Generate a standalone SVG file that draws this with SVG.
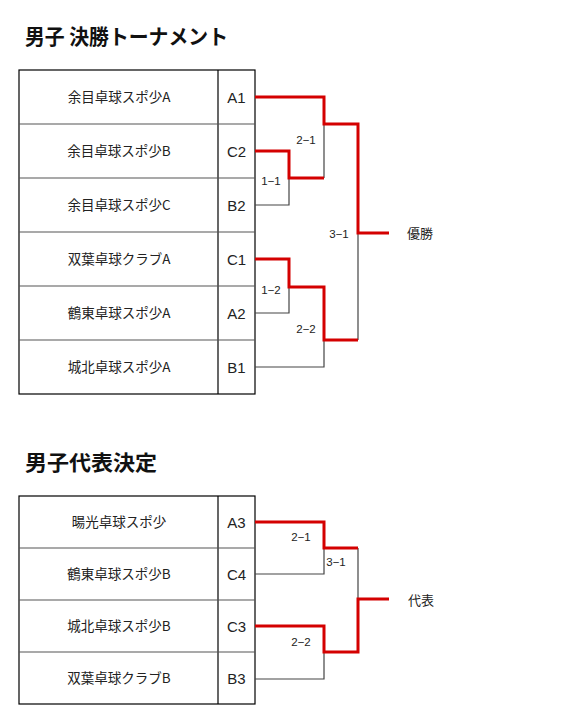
<svg xmlns="http://www.w3.org/2000/svg" width="585" height="727" viewBox="0 0 585 727">
<style>
.title{font-family:"Noto Sans CJK JP","Liberation Sans",sans-serif;font-size:21px;font-weight:bold;fill:#111}
.name{font-family:"Noto Sans CJK JP",sans-serif;font-size:13.5px;fill:#222;text-anchor:middle}
.code{font-family:"Liberation Sans","Noto Sans CJK JP",sans-serif;font-size:15px;fill:#222;text-anchor:middle}
.score{font-family:"Liberation Sans",sans-serif;font-size:11.5px;fill:#222;text-anchor:middle}
.res{font-family:"Noto Sans CJK JP",sans-serif;font-size:13px;fill:#222}
.cell{fill:#fff;stroke:#000;stroke-width:1.2}
.rowline{stroke:#555;stroke-width:1.2}
.lose{fill:none;stroke:#444;stroke-width:1.2}
.win{fill:none;stroke:#d40000;stroke-width:3}
</style>
<rect width="585" height="727" fill="#fff"/>
<text class="title" x="25" y="44" textLength="203" lengthAdjust="spacingAndGlyphs">男子 決勝トーナメント</text>
<text class="title" x="25" y="470" textLength="132" lengthAdjust="spacingAndGlyphs">男子代表決定</text>

<g id="table1">
<rect class="cell" x="19" y="70" width="236" height="324"/>
<line class="rowline" x1="218" y1="70" x2="218" y2="394" style="stroke:#000"/>
<line class="rowline" x1="19" y1="124" x2="255" y2="124"/>
<line class="rowline" x1="19" y1="178" x2="255" y2="178"/>
<line class="rowline" x1="19" y1="232" x2="255" y2="232"/>
<line class="rowline" x1="19" y1="286" x2="255" y2="286"/>
<line class="rowline" x1="19" y1="340" x2="255" y2="340"/>
</g>
<g id="team-A1"><text class="name" x="119" y="102">余目卓球スポ少A</text><text class="code" x="236.5" y="103">A1</text></g>
<g id="team-C2"><text class="name" x="119" y="156">余目卓球スポ少B</text><text class="code" x="236.5" y="157">C2</text></g>
<g id="team-B2"><text class="name" x="119" y="210">余目卓球スポ少C</text><text class="code" x="236.5" y="211">B2</text></g>
<g id="team-C1"><text class="name" x="119" y="264">双葉卓球クラブA</text><text class="code" x="236.5" y="265">C1</text></g>
<g id="team-A2"><text class="name" x="119" y="318">鶴東卓球スポ少A</text><text class="code" x="236.5" y="319">A2</text></g>
<g id="team-B1"><text class="name" x="119" y="372">城北卓球スポ少A</text><text class="code" x="236.5" y="373">B1</text></g>

<g id="table2">
<rect class="cell" x="19" y="496" width="236" height="208"/>
<line class="rowline" x1="218" y1="496" x2="218" y2="704" style="stroke:#000"/>
<line class="rowline" x1="19" y1="548" x2="255" y2="548"/>
<line class="rowline" x1="19" y1="600" x2="255" y2="600"/>
<line class="rowline" x1="19" y1="652" x2="255" y2="652"/>
</g>
<g id="team-A3"><text class="name" x="119" y="527">暘光卓球スポ少</text><text class="code" x="236.5" y="528">A3</text></g>
<g id="team-C4"><text class="name" x="119" y="579">鶴東卓球スポ少B</text><text class="code" x="236.5" y="580">C4</text></g>
<g id="team-C3"><text class="name" x="119" y="631">城北卓球スポ少B</text><text class="code" x="236.5" y="632">C3</text></g>
<g id="team-B3"><text class="name" x="119" y="683">双葉卓球クラブB</text><text class="code" x="236.5" y="684">B3</text></g>

<g id="connectors">
<polyline class="lose" points="255,205 289,205 289,178"/>
<polyline class="lose" points="324,124 324,178"/>
<polyline class="lose" points="255,313 289,313 289,287"/>
<polyline class="lose" points="255,367 324,367 324,340"/>
<polyline class="lose" points="358,232 358,340"/>
<polyline class="win" points="255,97 324,97 324,124 358,124 358,233 389,233"/>
<polyline class="win" points="255,151 289,151 289,178 324,178"/>
<polyline class="win" points="255,259 289,259 289,287 324,287 324,340 358,340"/>

<polyline class="lose" points="255,574 324,574 324,548"/>
<polyline class="lose" points="358,548 358,599"/>
<polyline class="lose" points="255,679 324,679 324,652"/>
<polyline class="win" points="255,522 324,522 324,548 358,548"/>
<polyline class="win" points="255,626 324,626 324,652 358,652 358,599 389,599"/>
</g>
<g id="labels">
<text class="score" x="271" y="185">1−1</text>
<text class="score" x="306" y="144">2−1</text>
<text class="score" x="271" y="294">1−2</text>
<text class="score" x="306" y="333">2−2</text>
<text class="score" x="339" y="238">3−1</text>
<text class="res" x="407" y="238">優勝</text>
<text class="score" x="301" y="541">2−1</text>
<text class="score" x="336" y="566">3−1</text>
<text class="score" x="301" y="646">2−2</text>
<text class="res" x="408" y="605">代表</text>
</g>
</svg>
